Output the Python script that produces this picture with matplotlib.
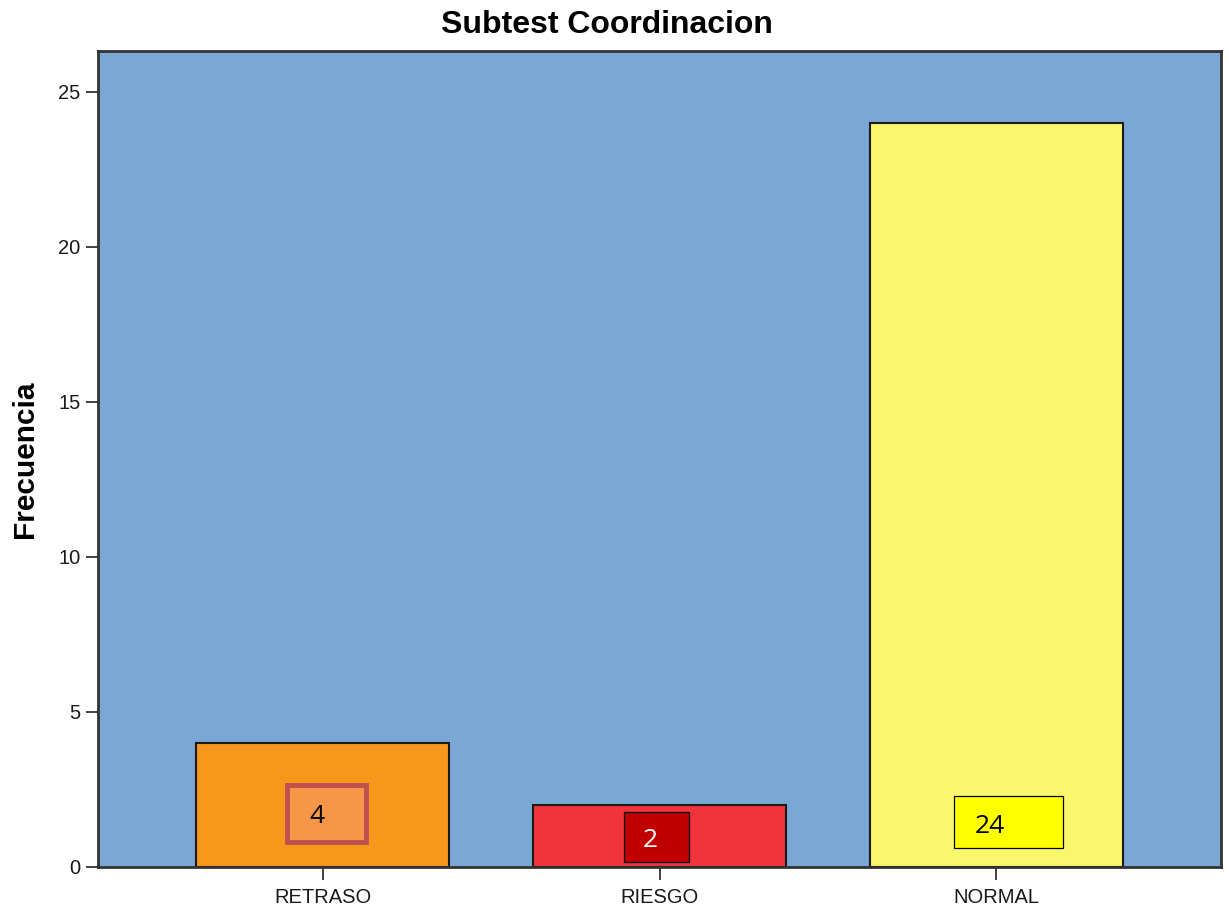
import matplotlib
matplotlib.use('Agg')
import matplotlib.pyplot as plt
from matplotlib.patches import Rectangle

categories = ['RETRASO', 'RIESGO', 'NORMAL']
frecuencias = [4, 2, 24]
y_ticks = [0, 5, 10, 15, 20, 25]

bar_colors = ['#F7981D', '#F1343B', '#FAF76F']

# cajitas de etiqueta (pegadas encima en el original)
label_fill = ['#F79646', '#C00000', '#FFFF00']
label_edge = ['#C0504D', '#000000', '#000000']
label_edge_w = [3.5, 0.9, 0.9]
label_text_col = ['black', 'white', 'black']
box_dx = [0.012, -0.009, 0.036]
box_y = [1.74, 0.97, 1.45]
box_w = [0.234, 0.193, 0.323]
box_h = [1.84, 1.61, 1.65]
text_dx = [-0.018, -0.027, -0.02]
text_y = [1.64, 0.84, 1.32]

plt.rcParams['font.family'] = ['Liberation Sans', 'DejaVu Sans']

fig = plt.figure(figsize=(12.29, 9.09), dpi=100)
ax = fig.add_axes([98 / 1229, 42 / 909, (1221 - 98) / 1229, (867 - 51) / 909])
ax.set_facecolor('#7BA7D4')

x = range(len(categories))
ax.bar(x, frecuencias, width=0.75, color=bar_colors, edgecolor='#1a1a1a', linewidth=1.5, zorder=2)

for i, v in enumerate(frecuencias):
    ax.add_patch(Rectangle((i + box_dx[i] - box_w[i] / 2, box_y[i] - box_h[i] / 2), box_w[i], box_h[i],
                           facecolor=label_fill[i], edgecolor=label_edge[i],
                           linewidth=label_edge_w[i], zorder=3))
    ax.text(i + text_dx[i], text_y[i], f'{v}', ha='center', va='center',
            fontsize=19, family=['Open Sans', 'DejaVu Sans'], color=label_text_col[i], zorder=4)

ax.set_xlim(-0.667, 2.667)
ax.set_ylim(0, 26.32)
ax.set_yticks(y_ticks)
ax.set_xticks(list(x))
ax.set_xticklabels(categories)
ax.tick_params(axis='both', labelsize=14.5, length=9, width=1.2, color='#222222', labelcolor='#1a1a1a')
ax.tick_params(axis='x', pad=6)

for s in ax.spines.values():
    s.set_color('#333333')
    s.set_linewidth(2)

ax.set_ylabel('Frecuencia', fontsize=21.5, fontweight='bold', labelpad=14)
fig.text(607 / 1229, 1 - 25 / 909, 'Subtest Coordinacion', ha='center', va='center',
         fontsize=23, fontweight='bold')

fig.savefig('out.png', dpi=100)
